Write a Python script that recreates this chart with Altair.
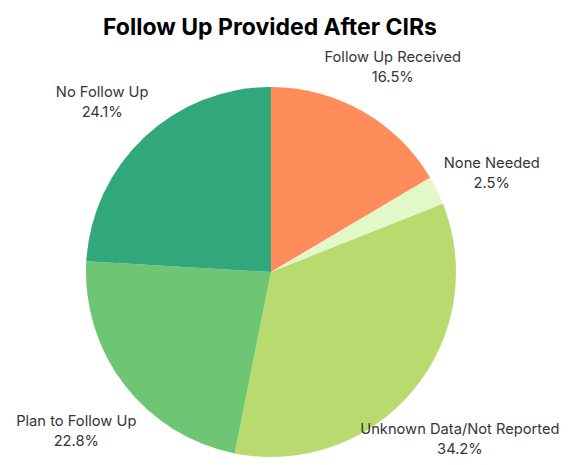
import altair as alt
import pandas as pd

categories = ["Follow Up Received", "None Needed", "Unknown Data/Not Reported",
              "Plan to Follow Up", "No Follow Up"]
percents = [16.5, 2.5, 34.2, 22.8, 24.1]
colors = ["#FF8C5A", "#E3F8C9", "#B9DA6E", "#6EC574", "#31A77B"]

df = pd.DataFrame({
    "category": categories,
    "value": percents,
    "order": list(range(len(categories))),
})
df["label"] = [f"{c}\n{v}%" for c, v in zip(categories, percents)]

TOP = 45
cx, cy = 271, 272 - TOP

base = alt.Chart(df).encode(
    theta=alt.Theta("value:Q", stack=True),
    order=alt.Order("order:Q"),
)

pie = base.mark_arc(radius=185, x=cx, y=cy).encode(
    color=alt.Color("category:N",
                    scale=alt.Scale(domain=categories, range=colors),
                    legend=None)
)

labels = base.mark_text(radius=246, x=cx, y=cy, lineBreak="\n",
                        font="Inter", fontSize=14.7, color="#363636",
                        align="center", baseline="middle",
                        lineHeight=20).encode(text="label:N")

chart = (pie + labels).properties(
    width=584, height=465 - TOP,
    padding={"left": 0, "right": 0, "top": TOP, "bottom": 0},
    autosize=alt.AutoSizeParams(type="none"),
    title=alt.TitleParams("Follow Up Provided After CIRs", font="Inter",
                          fontSize=23, fontWeight="bold", color="#000000",
                          anchor="middle", dx=-22, offset=5),
).configure_view(stroke=None)

chart.save("out.html", embed_options={"renderer": "svg", "actions": False})
